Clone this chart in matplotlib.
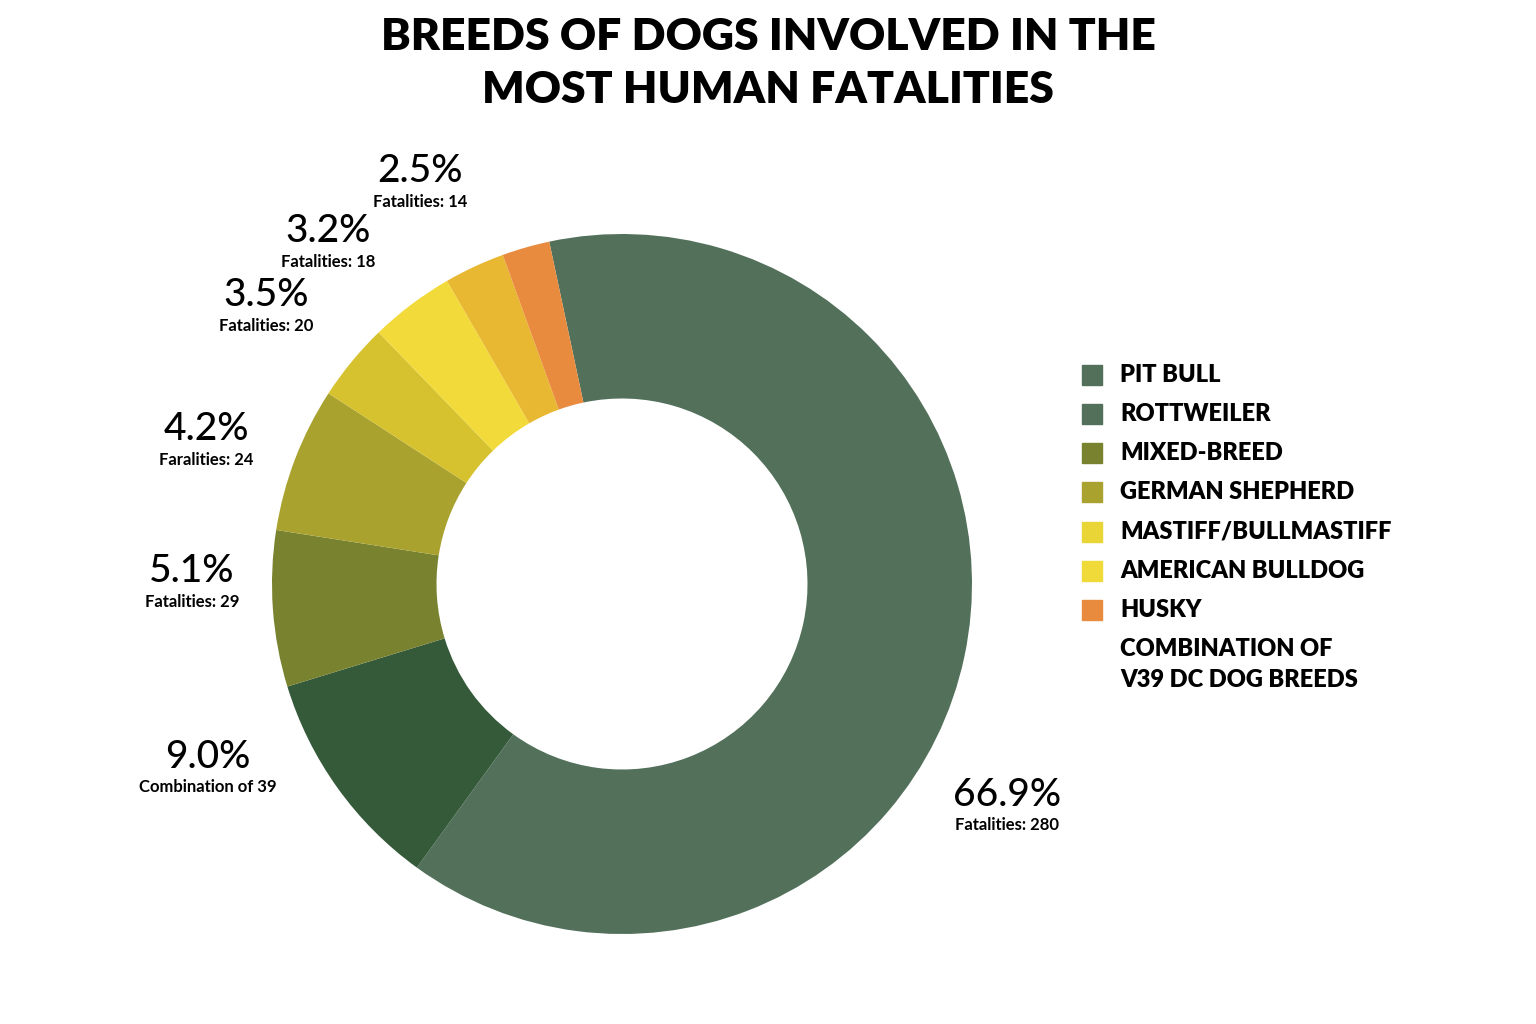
import matplotlib
matplotlib.use("Agg")
import matplotlib.pyplot as plt
from matplotlib.patches import Patch

slice_values = [63.3, 10.3, 7.2, 6.7, 3.6, 3.9, 2.8, 2.2]
slice_colors = ["#52705A", "#355A3A", "#78822F", "#A9A22F", "#D6C22E", "#F2DA3A", "#E9B832", "#E98B3E"]
label_pcts = ["66.9%", "9.0%", "5.1%", "4.2%", "3.5%", "3.2%", "2.5%"]
label_subs = ["Fatalities: 280", "Combination of 39", "Fatalities: 29", "Faralities: 24",
              "Fatalities: 20", "Fatalities: 18", "Fatalities: 14"]
label_pos = [(1007, 795), (208, 757), (192, 572), (206, 430), (266, 296), (328, 232), (420, 172)]
legend_names = ["PIT BULL", "ROTTWEILER", "MIXED-BREED", "GERMAN SHEPHERD", "MASTIFF/BULLMASTIFF",
                "AMERICAN BULLDOG", "HUSKY", "COMBINATION OF\nV39 DC DOG BREEDS"]
legend_colors = ["#52705A", "#52705A", "#78822F", "#A9A22F", "#E9D535", "#F0DA3A", "#E98B3E", "#FFFFFF"]

W, H = 1536, 1024
fig = plt.figure(figsize=(W/100, H/100), dpi=100)
fig.patch.set_facecolor("white")
F = "Lato"

cx, cy, R = 622, 584, 350
ax = fig.add_axes([(cx-R)/W, (H-cy-R)/H, 2*R/W, 2*R/H])
ax.pie(slice_values, colors=slice_colors, startangle=102, counterclock=False,
       radius=1, wedgeprops=dict(width=0.47, edgecolor="none"))
ax.set_aspect("equal")
ax.set_xlim(-1, 1); ax.set_ylim(-1, 1)
ax.axis("off")

fig.text(768/W, 1-37/H, "BREEDS OF DOGS INVOLVED IN THE", ha="center", va="center",
         fontsize=32, fontweight="heavy", family=F)
fig.text(768/W, 1-90/H, "MOST HUMAN FATALITIES", ha="center", va="center",
         fontsize=32, fontweight="heavy", family=F)

for p, s, (x, y) in zip(label_pcts, label_subs, label_pos):
    fig.text(x/W, 1-y/H, p, ha="center", va="center", fontsize=28, family=F, fontweight="medium")
    fig.text(x/W, 1-(y+30)/H, s, ha="center", va="center", fontsize=12, family=F, fontweight="bold")

ys = [375, 414, 453, 492, 532, 571, 610, 650]
for name, c, y in zip(legend_names, legend_colors, ys):
    fig.patches.append(plt.Rectangle(((1082)/W, 1-(y+10)/H), 20/W, 20/H,
                                     transform=fig.transFigure, color=c))
    fig.text(1120/W, 1-y/H, name, ha="left", va="top" if "\n" in name else "center",
             fontsize=17, fontweight="heavy", family=F, linespacing=1.5,
             **({} if "\n" not in name else {}))
fig.texts[-1].set_position((1120/W, 1-(y-12)/H))

fig.savefig("out.png", dpi=100)
